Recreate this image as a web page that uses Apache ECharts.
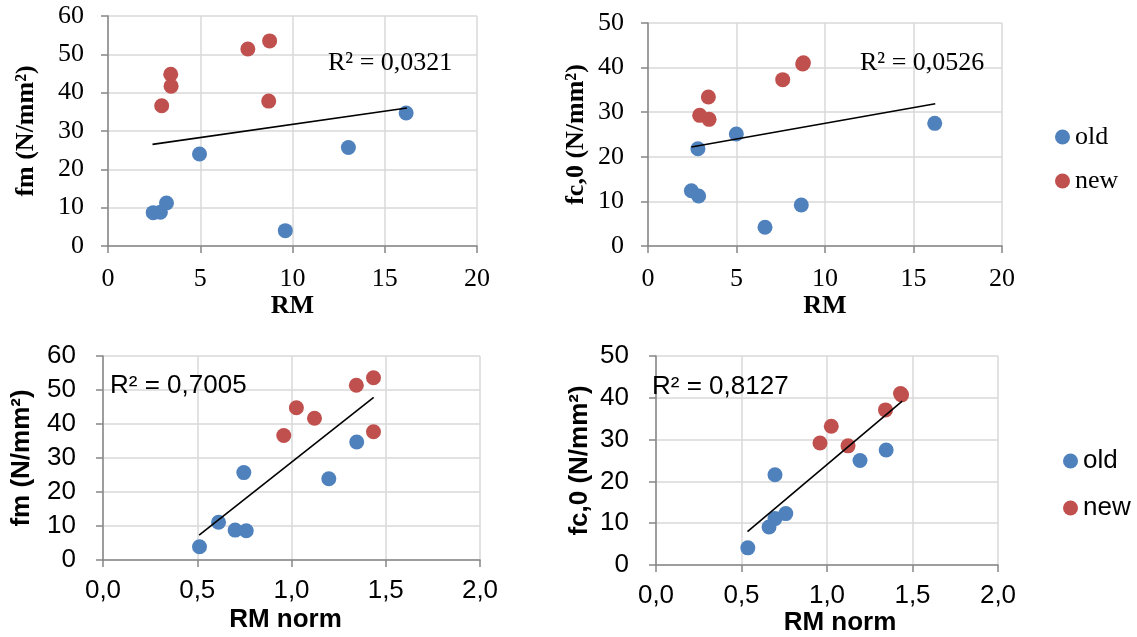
<!DOCTYPE html>
<html>
<head>
<meta charset="utf-8">
<script src="https://cdn.jsdelivr.net/npm/echarts@6/dist/echarts.min.js"></script>
<style>
  html, body { margin: 0; padding: 0; background: #fff; }
  #chart { width: 1137px; height: 637px; }
</style>
</head>
<body>
<div id="chart"></div>
<script>
// ---- Panel A: RM vs fm ----
const oldRM_A = [2.45, 2.84, 3.17, 4.96, 9.61, 13.03, 16.16];
const oldFm_A = [8.7, 8.8, 11.2, 24.0, 4.0, 25.7, 34.7];
const newRM_A = [2.91, 3.40, 3.42, 7.58, 8.76, 8.71];
const newFm_A = [36.6, 44.8, 41.7, 51.4, 53.5, 37.8];
const trendX_A = [2.41, 16.2];
const trendY_A = [26.5, 36.0];

// ---- Panel B: RM vs fc,0 ----
const oldRM_B = [2.45, 2.86, 2.82, 4.99, 6.61, 8.66, 16.2];
const oldFc_B = [12.4, 11.2, 21.8, 25.1, 4.2, 9.2, 27.5];
const newRM_B = [2.92, 3.45, 3.41, 7.61, 8.74, 8.78];
const newFc_B = [29.3, 28.4, 33.4, 37.3, 40.8, 41.1];
const trendX_B = [2.45, 16.23];
const trendY_B = [22.2, 31.9];

// ---- Panel C: RM norm vs fm ----
const oldNorm_C = [0.512, 0.613, 0.701, 0.760, 0.747, 1.198, 1.346];
const oldFm_C = [3.9, 11.1, 8.8, 8.6, 25.7, 23.9, 34.7];
const newNorm_C = [0.959, 1.026, 1.122, 1.344, 1.435, 1.435];
const newFm_C = [36.6, 44.8, 41.7, 51.4, 53.6, 37.7];
const trendX_C = [0.51, 1.436];
const trendY_C = [7.3, 47.8];

// ---- Panel D: RM norm vs fc,0 ----
const oldNorm_D = [0.537, 0.661, 0.696, 0.759, 0.696, 1.193, 1.346];
const oldFc_D = [4.1, 9.1, 11.1, 12.3, 21.6, 25.0, 27.5];
const newNorm_D = [0.959, 1.025, 1.123, 1.342, 1.430, 1.436];
const newFc_D = [29.2, 33.2, 28.5, 37.1, 41.0, 40.7];
const trendX_D = [0.535, 1.44];
const trendY_D = [8.0, 39.2];

// ---- Text ----
const seriesNames = ['old', 'new'];
const r2Labels = ['R² = 0,0321', 'R² = 0,0526', 'R² = 0,7005', 'R² = 0,8127'];
const xTitles = ['RM', 'RM', 'RM norm', 'RM norm'];
const yTitles = ['fm (N/mm²)', 'fc,0 (N/mm²)', 'fm (N/mm²)', 'fc,0 (N/mm²)'];

const zip = (xs, ys) => xs.map((x, i) => [x, ys[i]]);

const SERIF = '"Liberation Serif", "Times New Roman", serif';
const SANS = '"Liberation Sans", Arial, sans-serif';
const BLUE = '#4F81BD';
const RED = '#C0504D';
const AXIS = '#868686';
const GRIDC = '#D9D9D9';

const grids = [
  { left: 108, top: 16, width: 369, height: 230 },
  { left: 648, top: 23, width: 354, height: 223 },
  { left: 103, top: 356, width: 377, height: 204 },
  { left: 656, top: 356, width: 342, height: 209 }
];

const fonts = [SERIF, SERIF, SANS, SANS];
const xMax = [20, 20, 2, 2];
const xInt = [5, 5, 0.5, 0.5];
const yMax = [60, 50, 60, 50];
const xNameGap = [47, 47, 47, 43];
const xNamePad = [[0,0,0,0],[0,0,0,0],[0,12,0,0],[0,0,0,26]];
const yNameGap = [69, 59, 68, 63];
const yLabelMargin = [24, 24, 27, 27];
const xLabelMargin = [20, 20, 18, 18];

const xAxes = grids.map((g, i) => ({
  type: 'value', gridIndex: i, min: 0, max: xMax[i], interval: xInt[i],
  name: xTitles[i], nameLocation: 'middle', nameGap: xNameGap[i],
  nameTextStyle: { fontFamily: fonts[i], fontSize: 26, fontWeight: 'bold', color: '#000', padding: xNamePad[i] },
  axisLine: { show: true, onZero: false, lineStyle: { color: AXIS, width: 1.5 } },
  axisTick: { show: true, inside: false, length: 7, lineStyle: { color: AXIS, width: 1.5 } },
  axisLabel: {
    fontFamily: fonts[i], fontSize: 26, color: '#000', margin: xLabelMargin[i],
    formatter: v => i < 2 ? String(v) : v.toFixed(1).replace('.', ',')
  },
  splitLine: { show: true, lineStyle: { color: GRIDC, width: 1.5 } }
}));

const yAxes = grids.map((g, i) => ({
  type: 'value', gridIndex: i, min: 0, max: yMax[i], interval: 10,
  name: yTitles[i], nameLocation: 'middle', nameGap: yNameGap[i], nameRotate: 90,
  nameTextStyle: { fontFamily: fonts[i], fontSize: 26, fontWeight: 'bold', color: '#000' },
  axisLine: { show: true, onZero: false, lineStyle: { color: AXIS, width: 1.5 } },
  axisTick: { show: true, inside: false, length: 7, lineStyle: { color: AXIS, width: 1.5 } },
  axisLabel: { fontFamily: fonts[i], fontSize: 26, color: '#000', margin: yLabelMargin[i] },
  splitLine: { show: true, lineStyle: { color: GRIDC, width: 1.5 } }
}));

const panels = [
  [zip(oldRM_A, oldFm_A), zip(newRM_A, newFm_A), zip(trendX_A, trendY_A)],
  [zip(oldRM_B, oldFc_B), zip(newRM_B, newFc_B), zip(trendX_B, trendY_B)],
  [zip(oldNorm_C, oldFm_C), zip(newNorm_C, newFm_C), zip(trendX_C, trendY_C)],
  [zip(oldNorm_D, oldFc_D), zip(newNorm_D, newFc_D), zip(trendX_D, trendY_D)]
];

const series = [];
panels.forEach((p, i) => {
  series.push({
    name: seriesNames[0], type: 'scatter', xAxisIndex: i, yAxisIndex: i,
    data: p[0], symbol: 'circle', symbolSize: 15, itemStyle: { color: BLUE, opacity: 1 }, z: 2
  });
  series.push({
    name: seriesNames[1], type: 'scatter', xAxisIndex: i, yAxisIndex: i,
    data: p[1], symbol: 'circle', symbolSize: 15, itemStyle: { color: RED, opacity: 1 }, z: 2
  });
  series.push({
    name: 'trend' + i, type: 'line', xAxisIndex: i, yAxisIndex: i,
    data: p[2], showSymbol: false, symbol: 'none', silent: true,
    lineStyle: { color: '#000', width: 1.6 }, z: 3, animation: false
  });
});

const r2Pos = [[328, 50, SERIF], [860, 50, SERIF], [110, 373, SANS], [652, 374, SANS]];
const graphic = r2Labels.map((t, i) => ({
  type: 'text', left: r2Pos[i][0], top: r2Pos[i][1], z: 10,
  style: { text: t, font: '26px ' + r2Pos[i][2], fill: '#000' }
}));

const legendBase = {
  data: seriesNames, orient: 'vertical', icon: 'circle', padding: 0,
  itemWidth: 15, itemHeight: 15, selectedMode: false
};

const option = {
  animation: false,
  backgroundColor: '#fff',
  grid: grids.map(g => Object.assign({ containLabel: false }, g)),
  xAxis: xAxes,
  yAxis: yAxes,
  legend: [
    Object.assign({}, legendBase, { left: 1055, top: 124, itemGap: 18,
      textStyle: { fontFamily: SERIF, fontSize: 26, color: '#000' } }),
    Object.assign({}, legendBase, { left: 1063, top: 448, itemGap: 21,
      textStyle: { fontFamily: SANS, fontSize: 26, color: '#000' } })
  ],
  graphic: graphic,
  series: series
};

const chart = echarts.init(document.getElementById('chart'), null, { renderer: 'canvas' });
chart.setOption(option);
</script>
</body>
</html>
